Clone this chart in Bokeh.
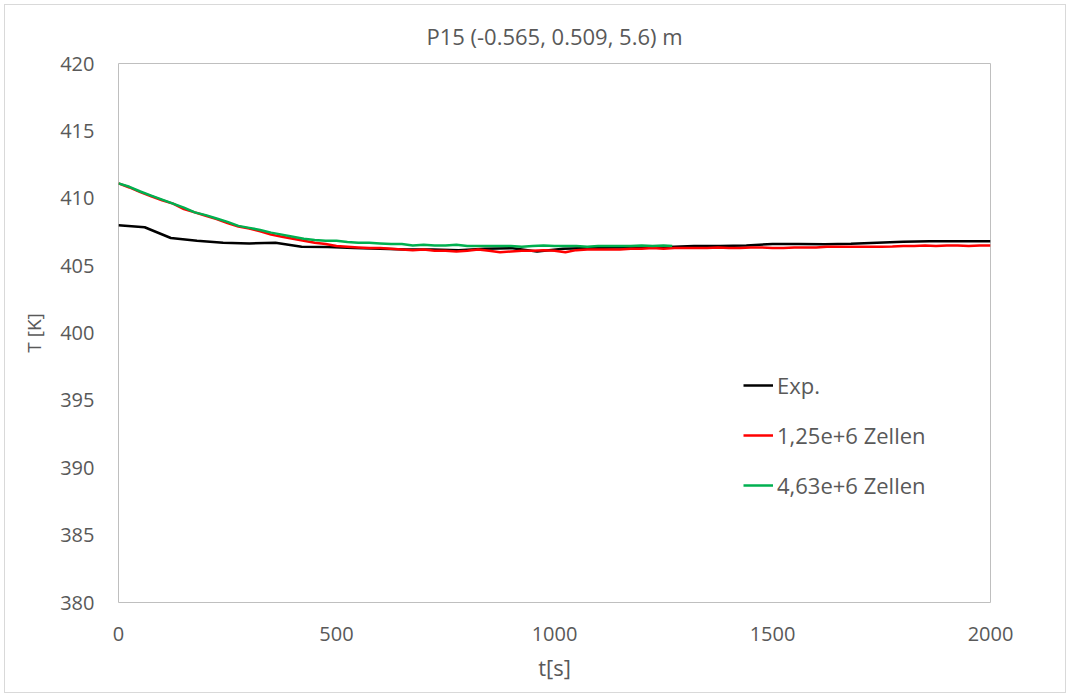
from bokeh.plotting import figure
from bokeh.layouts import column
from bokeh.models import Legend, LegendItem, FixedTicker
from bokeh.embed import file_html
from bokeh.resources import INLINE

# ---- data ----
t_exp = [0, 60, 120, 180, 240, 300, 360, 420, 480, 540, 600, 660, 720, 780, 840, 900,
         960, 1020, 1080, 1140, 1200, 1260, 1320, 1380, 1440, 1500, 1560, 1620, 1680,
         1740, 1800, 1860, 1920, 1980, 2000]
T_exp = [408.0, 407.85, 407.05, 406.85, 406.7, 406.65, 406.7, 406.4, 406.38, 406.3,
         406.25, 406.2, 406.2, 406.15, 406.25, 406.3, 406.05, 406.25, 406.3, 406.35,
         406.35, 406.38, 406.45, 406.45, 406.5, 406.6, 406.6, 406.58, 406.62, 406.7,
         406.78, 406.8, 406.8, 406.8, 406.8]

t_red = [0, 25, 50, 75, 100, 125, 150, 175, 200, 225, 250, 275, 300, 325, 350, 375,
         400, 425, 450, 475, 500, 525, 550, 575, 600, 625, 650, 675, 700, 725, 750, 775,
         800, 825, 850, 875, 900, 925, 950, 975, 1000, 1025, 1050, 1075, 1100, 1125,
         1150, 1175, 1200, 1225, 1250, 1275, 1300, 1325, 1350, 1375, 1400, 1425, 1450,
         1475, 1500, 1525, 1550, 1575, 1600, 1625, 1650, 1675, 1700, 1725, 1750, 1775,
         1800, 1825, 1850, 1875, 1900, 1925, 1950, 1975, 2000]
T_red = [411.1, 410.8, 410.45, 410.15, 409.85, 409.6, 409.2, 408.95, 408.7, 408.45,
         408.15, 407.9, 407.75, 407.55, 407.3, 407.15, 407.0, 406.85, 406.7, 406.6,
         406.45, 406.4, 406.35, 406.3, 406.3, 406.25, 406.2, 406.15, 406.2, 406.1,
         406.1, 406.05, 406.1, 406.2, 406.1, 406.0, 406.05, 406.1, 406.1, 406.15,
         406.1, 406.0, 406.15, 406.2, 406.2, 406.2, 406.2, 406.25, 406.25, 406.3,
         406.25, 406.3, 406.3, 406.3, 406.3, 406.35, 406.3, 406.3, 406.35, 406.35,
         406.3, 406.3, 406.35, 406.35, 406.35, 406.4, 406.4, 406.4, 406.4, 406.4,
         406.4, 406.42, 406.45, 406.45, 406.5, 406.45, 406.5, 406.5, 406.45, 406.5,
         406.5]

t_green = [0, 25, 50, 75, 100, 125, 150, 175, 200, 225, 250, 275, 300, 325, 350, 375,
           400, 425, 450, 475, 500, 525, 550, 575, 600, 625, 650, 675, 700, 725, 750,
           775, 800, 825, 850, 875, 900, 925, 950, 975, 1000, 1025, 1050, 1075, 1100,
           1125, 1150, 1175, 1200, 1225, 1250, 1270]
T_green = [411.1, 410.85, 410.5, 410.2, 409.9, 409.6, 409.3, 408.95, 408.75, 408.5,
           408.25, 407.95, 407.8, 407.65, 407.45, 407.3, 407.15, 407.0, 406.9, 406.85,
           406.85, 406.75, 406.7, 406.7, 406.65, 406.6, 406.6, 406.5, 406.55, 406.5,
           406.5, 406.55, 406.45, 406.45, 406.45, 406.45, 406.45, 406.4, 406.45, 406.5,
           406.45, 406.45, 406.45, 406.4, 406.45, 406.45, 406.45, 406.45, 406.5, 406.45,
           406.5, 406.45]

x_ticks = [0, 500, 1000, 1500, 2000]
y_ticks = [380, 385, 390, 395, 400, 405, 410, 415, 420]

title_text = "P15 (-0.565, 0.509, 5.6) m"
x_label = "t[s]"
y_label = "T [K]"
labels = ["Exp.", "1,25e+6 Zellen", "4,63e+6 Zellen"]
colors = ["#000000", "#ff0000", "#00b050"]

FONT = "Open Sans"
TXT = "#595959"

p = figure(width=1060, height=687, output_backend="svg", toolbar_location=None,
           x_range=(0, 2000), y_range=(380, 420),
           min_border_left=113, min_border_right=75, min_border_top=58,
           min_border_bottom=90)

p.title.text = title_text
p.title.align = "center"
p.title.text_font = FONT
p.title.text_font_size = "22px"
p.title.text_font_style = "normal"
p.title.text_color = TXT
p.title.standoff = 25

p.grid.visible = False
p.outline_line_color = "#bfbfbf"
p.outline_line_width = 1

for ax in (p.xaxis[0], p.yaxis[0]):
    ax.axis_line_color = None
    ax.major_tick_line_color = None
    ax.minor_tick_line_color = None
    ax.major_label_text_font = FONT
    ax.major_label_text_font_size = "20px"
    ax.major_label_text_color = TXT
    ax.axis_label_text_font = FONT
    ax.axis_label_text_font_style = "normal"
    ax.axis_label_text_color = TXT

p.xaxis.ticker = FixedTicker(ticks=x_ticks)
p.yaxis.ticker = FixedTicker(ticks=y_ticks)
p.xaxis.major_label_standoff = 18
p.yaxis.major_label_standoff = 18
p.xaxis.axis_label = x_label
p.xaxis.axis_label_text_font_size = "22px"
p.xaxis.axis_label_standoff = 8
p.yaxis.axis_label = y_label
p.yaxis.axis_label_text_font_size = "19px"
p.yaxis.axis_label_standoff = 10

r_exp = p.line(t_exp, T_exp, line_color=colors[0], line_width=2.5)
r_red = p.line(t_red, T_red, line_color=colors[1], line_width=2.5)
r_green = p.line(t_green, T_green, line_color=colors[2], line_width=2.5)

legend = Legend(items=[LegendItem(label=labels[0], renderers=[r_exp]),
                       LegendItem(label=labels[1], renderers=[r_red]),
                       LegendItem(label=labels[2], renderers=[r_green])],
                location=(625, 102), border_line_color=None, background_fill_alpha=0,
                label_text_font=FONT, label_text_font_size="22px",
                label_text_color=TXT, glyph_width=30, label_standoff=4,
                spacing=20, label_height=22, glyph_height=22, padding=10, margin=0)
p.add_layout(legend, "center")

page = column(p, styles={"border": "1px solid #d9d9d9", "margin": "4px"})

open("out.html", "w").write(file_html(page, INLINE))
